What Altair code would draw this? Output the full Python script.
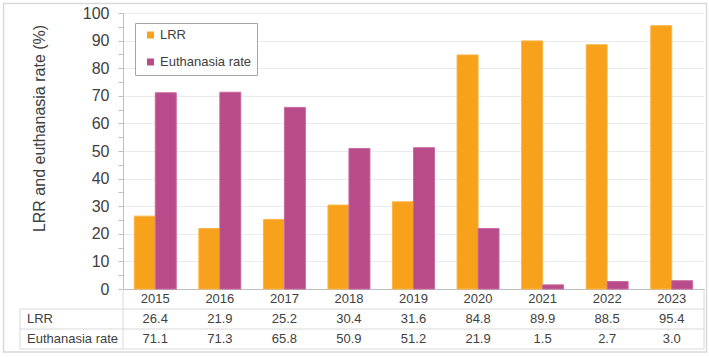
import altair as alt
import pandas as pd

years = ["2015", "2016", "2017", "2018", "2019", "2020", "2021", "2022", "2023"]
lrr = [26.4, 21.9, 25.2, 30.4, 31.6, 84.8, 89.9, 88.5, 95.4]
euthanasia = [71.1, 71.3, 65.8, 50.9, 51.2, 21.9, 1.5, 2.7, 3.0]
series = ["LRR", "Euthanasia rate"]
colors = ["#F8A21B", "#B94B8B"]
edge_colors = ["#FBB448", "#C76A9F"]
y_ticks = list(range(0, 101, 5))
y_title = "LRR and euthanasia rate (%)"

records = []
for name, vals in zip(series, [lrr, euthanasia]):
    for yr, v in zip(years, vals):
        records.append({"series": name, "year": yr, "value": v})
df = pd.DataFrame(records)
labels_df = pd.DataFrame({"series": series})
one = pd.DataFrame({"k": [0]})

FONT = "Liberation Sans"
TXT = "#404040"
AXIS_GRAY = "#bfbfbf"
LINE_GRAY = "#d9d9d9"

W, H = 581, 276

x_enc = alt.X(
    "year:N",
    sort=years,
    scale=alt.Scale(domain=years, paddingInner=0.35, paddingOuter=0.175),
    axis=alt.Axis(
        title=None, labelAngle=0, labelFontSize=13, labelColor=TXT, labelFont=FONT,
        labelPadding=3, ticks=False, tickSize=0, domainColor=AXIS_GRAY,
        labelBaseline="top", grid=False,
    ),
)

row_scale = alt.Scale(domain=series, range=[296, 336])

bars = alt.Chart(df).mark_bar(strokeWidth=1).encode(
    x=x_enc,
    xOffset=alt.XOffset("series:N", sort=series,
                        scale=alt.Scale(domain=series, paddingInner=0, paddingOuter=0)),
    y=alt.Y(
        "value:Q",
        scale=alt.Scale(domain=[0, 100], nice=False, zero=True),
        axis=alt.Axis(
            values=y_ticks,
            labelExpr="datum.value % 10 === 0 ? datum.label : ''",
            labelFontSize=16, labelColor=TXT, labelFont=FONT, labelPadding=9,
            tickSize=5, tickColor=AXIS_GRAY, domainColor=AXIS_GRAY,
            grid=True, gridColor="#ebebeb",
            gridOpacity={"condition": {"test": "datum.value % 10 === 0", "value": 1}, "value": 0},
            title=y_title, titleFontSize=16, titleFont=FONT, titleFontWeight="normal",
            titleColor=TXT, titleAngle=270, titleX=-79, titleY=115,
            titleAlign="center", titleBaseline="alphabetic",
        ),
    ),
    color=alt.Color(
        "series:N", sort=series,
        scale=alt.Scale(domain=series, range=colors),
        legend=alt.Legend(
            title=None, orient="none", legendX=12, legendY=10, direction="vertical",
            strokeColor="#a6a6a6", fillColor="white", padding=5.5,
            symbolType="square", symbolSize=49, symbolStrokeWidth=0,
            symbolOffset=3.5, labelOffset=3, labelFontSize=13, labelColor=TXT,
            labelFont=FONT, rowPadding=13,
        ),
    ),
    stroke=alt.Stroke("series:N", scale=alt.Scale(domain=series, range=edge_colors), legend=None),
)

border = alt.Chart(one).mark_rect(fill="white", fillOpacity=0, stroke=LINE_GRAY, strokeWidth=1.5).encode(
    x=alt.value(-119.5), x2=alt.value(583.5), y=alt.value(-9.5), y2=alt.value(339)
)

def hline(y):
    return alt.Chart(one).mark_rule(color=LINE_GRAY, strokeWidth=1).encode(
        x=alt.value(-103), x2=alt.value(W), y=alt.value(y)
    )

def vline(x, y1, y2):
    return alt.Chart(one).mark_rule(color=LINE_GRAY, strokeWidth=1).encode(
        x=alt.value(x), y=alt.value(y1), y2=alt.value(y2)
    )

table_lines = [hline(296), hline(316), hline(336),
               vline(-103, 296, 336), vline(0, 276, 336), vline(W, 276, 336)]

table_values = alt.Chart(df).mark_text(fontSize=13, font=FONT, color=TXT, baseline="middle").encode(
    x=x_enc,
    y=alt.Y("series:N", sort=series, scale=row_scale, axis=None),
    text=alt.Text("value:Q", format=".1f"),
)

row_labels = alt.Chart(labels_df).mark_text(
    fontSize=13, font=FONT, color=TXT, baseline="middle", align="left"
).encode(
    x=alt.value(-96),
    y=alt.Y("series:N", sort=series, scale=row_scale, axis=None),
    text="series:N",
)

chart = alt.layer(
    border, bars, *table_lines, table_values, row_labels
).resolve_scale(
    y="independent"
).properties(
    width=W, height=H,
    autosize=alt.AutoSizeParams(type="none"),
    padding={"left": 123, "top": 13, "right": 5, "bottom": 68},
    background="white",
).configure_view(stroke=None)

chart.save("out.html", embed_options={"renderer": "svg", "actions": False})
